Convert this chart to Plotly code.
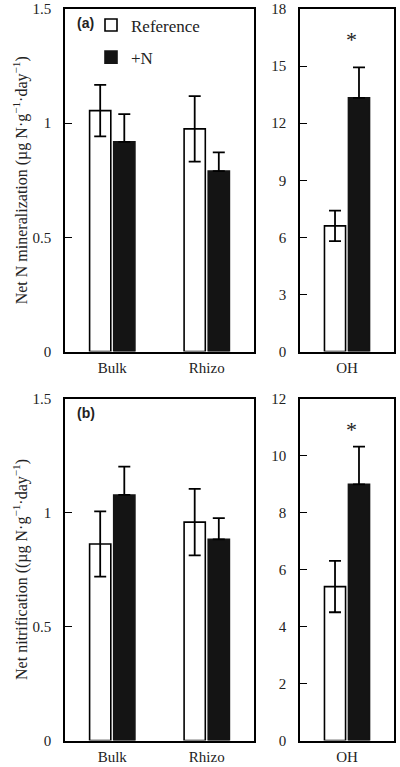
import plotly.graph_objects as go

# ---- data ----
cats_left = ["Bulk", "Rhizo"]
cats_right = ["OH"]

min_ref = [1.055, 0.975]
min_ref_err = [0.113, 0.143]
min_n = [0.918, 0.790]
min_n_err = [0.122, 0.082]
min_oh_ref = [6.6]
min_oh_ref_err = [0.8]
min_oh_n = [13.33]
min_oh_n_err = [1.6]

nit_ref = [0.862, 0.958]
nit_ref_err = [0.143, 0.146]
nit_n = [1.077, 0.882]
nit_n_err = [0.124, 0.093]
nit_oh_ref = [5.4]
nit_oh_ref_err = [0.9]
nit_oh_n = [8.99]
nit_oh_n_err = [1.32]

series_names = ["Reference", "+N"]
sig_min = 16.4
sig_nit = 10.93

W, H = 400, 767
FONT = "Liberation Serif, Times New Roman, serif"

def err(a, upper_only=False):
    d = dict(type="data", array=a, visible=True, color="black", thickness=1.8, width=6)
    if upper_only:
        d["symmetric"] = False
        d["arrayminus"] = [0 for _ in a]
    return d

fig = go.Figure()

def add_pair(xa, ya, cats, ref, referr, nv, nerr, show):
    fig.add_trace(go.Bar(x=cats, y=ref, error_y=err(referr), name=series_names[0],
                         marker=dict(color="white", line=dict(color="black", width=1.6)),
                         xaxis=xa, yaxis=ya, showlegend=show, legendgroup="ref"))
    fig.add_trace(go.Bar(x=cats, y=nv, error_y=err(nerr, True), name=series_names[1],
                         marker=dict(color="#141414", line=dict(color="#141414", width=1.6)),
                         xaxis=xa, yaxis=ya, showlegend=show, legendgroup="n"))

add_pair("x", "y", cats_left, min_ref, min_ref_err, min_n, min_n_err, True)
add_pair("x2", "y2", cats_right, min_oh_ref, min_oh_ref_err, min_oh_n, min_oh_n_err, False)
add_pair("x3", "y3", cats_left, nit_ref, nit_ref_err, nit_n, nit_n_err, False)
add_pair("x4", "y4", cats_right, nit_oh_ref, nit_oh_ref_err, nit_oh_n, nit_oh_n_err, False)

def px_x(a, b):
    return [a / W, b / W]

def px_y(top, bottom):
    return [1 - bottom / H, 1 - top / H]

xl = px_x(65, 254)
xr = px_x(300, 394)
yt = px_y(9, 351.5)
yb = px_y(398.5, 740.5)

tickfont = dict(family=FONT, size=15, color="#222")

def xaxis(dom, anchor):
    return dict(domain=dom, anchor=anchor, type="category", showline=True, mirror=True,
                linecolor="black", linewidth=1.6, ticks="", ticklen=0, showgrid=False,
                zeroline=False, tickfont=tickfont, ticklabelstandoff=2, fixedrange=True)

def yaxis(dom, anchor, rng, dtick, title=None):
    d = dict(domain=dom, anchor=anchor, range=rng, dtick=dtick, showline=True, mirror=True,
             linecolor="black", linewidth=1.6, ticks="inside", ticklen=7, tickwidth=1.4,
             tickcolor="black", showgrid=False, zeroline=False, tickfont=tickfont,
             ticklabelstandoff=9, automargin=False, fixedrange=True)
    if title:
        d["title"] = dict(text=title, font=dict(family=FONT, size=16, color="#222"), standoff=1)
    return d

unit = "(µg N·g<sup>−1</sup>·day<sup>−1</sup>)"
fig.update_layout(
    width=W, height=H,
    margin=dict(l=0, r=0, t=0, b=0),
    font=dict(family=FONT, color="#222"),
    paper_bgcolor="white", plot_bgcolor="white",
    barmode="group", bargap=0.49, bargroupgap=0.12,
    xaxis=xaxis(xl, "y"), yaxis=yaxis(yt, "x", [0, 1.5], 0.5, "Net N mineralization " + unit),
    xaxis2=xaxis(xr, "y2"), yaxis2=yaxis(yt, "x2", [0, 18], 3),
    xaxis3=xaxis(xl, "y3"), yaxis3=yaxis(yb, "x3", [0, 1.5], 0.5, "Net nitrification (" + unit),
    xaxis4=xaxis(xr, "y4"), yaxis4=yaxis(yb, "x4", [0, 12], 2),
    legend=dict(x=91 / W, y=1 - 7.5 / H, xanchor="left", yanchor="top",
                font=dict(family=FONT, size=17, color="#222"), bgcolor="rgba(0,0,0,0)",
                traceorder="grouped", tracegroupgap=7, itemwidth=30),
    showlegend=True,
)

fig.add_annotation(text="<b>(a)</b>", x=75 / W, y=1 - 23 / H, xref="paper", yref="paper",
                   xanchor="left", yanchor="middle", showarrow=False,
                   font=dict(family="Liberation Sans, Arial, sans-serif", size=14, color="#222"))
fig.add_annotation(text="<b>(b)</b>", x=75 / W, y=1 - 413 / H, xref="paper", yref="paper",
                   xanchor="left", yanchor="middle", showarrow=False,
                   font=dict(family="Liberation Sans, Arial, sans-serif", size=14, color="#222"))
fig.add_annotation(text="*", x="OH", y=sig_min, xref="x2", yref="y2", xshift=4,
                   showarrow=False, font=dict(family=FONT, size=22, color="#222"))
fig.add_annotation(text="*", x="OH", y=sig_nit, xref="x4", yref="y4", xshift=4,
                   showarrow=False, font=dict(family=FONT, size=22, color="#222"))

fig.write_html("out.html", config={"displayModeBar": False},
               post_script="document.body.style.margin='0px';")
